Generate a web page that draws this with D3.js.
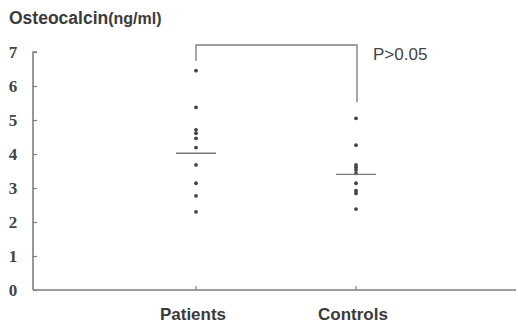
<!DOCTYPE html>
<html>
<head>
<meta charset="utf-8">
<script src="https://cdn.jsdelivr.net/npm/d3@7"></script>
<style>
  body { margin: 0; background: #fff; }
  svg { display: block; }
</style>
</head>
<body>
<svg id="chart"></svg>
<script>
const width = 518;
const height = 324;

const groups = ["Patients", "Controls"];
const patients = [6.45, 5.37, 4.71, 4.61, 4.46, 4.19, 3.68, 3.14, 2.77, 2.30];
const controls = [5.05, 4.26, 3.68, 3.61, 3.53, 3.43, 3.14, 2.92, 2.84, 2.38];
const means = [4.02, 3.40];
const yTicks = [0, 1, 2, 3, 4, 5, 6, 7];
const pLabel = "P>0.05";

const axisColor = "#808080";
const dotColor = "#444";

const svg = d3.select("#chart")
  .attr("width", width)
  .attr("height", height);

const x = d3.scalePoint()
  .domain(groups)
  .range([196, 356]);

const y = d3.scaleLinear()
  .domain([0, 7])
  .range([290, 52]);

const x0 = 33;

// title
const title = svg.append("text")
  .attr("x", 9)
  .attr("y", 24)
  .attr("font-family", "Liberation Sans, Arial, sans-serif")
  .attr("font-weight", "bold")
  .attr("fill", "#3a3a3a");
title.append("tspan").attr("font-size", 17.5).text("Osteocalcin");
title.append("tspan").attr("font-size", 16).text("(ng/ml)");

// y axis
const yAxis = svg.append("g")
  .attr("transform", `translate(${x0},0)`)
  .call(d3.axisRight(y).tickValues(yTicks).tickSize(4).tickFormat(""));
yAxis.select(".domain")
  .attr("d", `M4,${y(7)}H0V${y(0)}`)
  .attr("stroke", axisColor)
  .attr("stroke-width", 1.6);
yAxis.selectAll(".tick line").attr("stroke", axisColor).attr("stroke-width", 1.2);

svg.append("g")
  .selectAll("text")
  .data(yTicks)
  .join("text")
  .attr("x", 13)
  .attr("y", d => y(d))
  .attr("dy", "0.35em")
  .attr("text-anchor", "middle")
  .attr("font-family", "Liberation Serif, Times New Roman, serif")
  .attr("font-weight", "bold")
  .attr("font-size", 17)
  .attr("fill", "#444")
  .text(d => d);

// x axis
svg.append("line")
  .attr("x1", x0).attr("x2", 516)
  .attr("y1", y(0)).attr("y2", y(0))
  .attr("stroke", axisColor)
  .attr("stroke-width", 1.6);

svg.append("g")
  .selectAll("line")
  .data(groups)
  .join("line")
  .attr("x1", d => x(d)).attr("x2", d => x(d))
  .attr("y1", y(0)).attr("y2", y(0) - 4)
  .attr("stroke", axisColor)
  .attr("stroke-width", 1.2);

svg.append("g")
  .selectAll("text")
  .data(groups)
  .join("text")
  .attr("x", d => x(d) - 3)
  .attr("y", 320)
  .attr("text-anchor", "middle")
  .attr("font-family", "Liberation Sans, Arial, sans-serif")
  .attr("font-weight", "bold")
  .attr("font-size", 17)
  .attr("fill", "#3a3a3a")
  .text(d => d);

// dots
const series = [patients, controls];
series.forEach((vals, i) => {
  svg.append("g")
    .selectAll("circle")
    .data(vals)
    .join("circle")
    .attr("cx", x(groups[i]))
    .attr("cy", d => y(d))
    .attr("r", 1.9)
    .attr("fill", dotColor);
});

// means
svg.append("g")
  .selectAll("line")
  .data(means)
  .join("line")
  .attr("x1", (d, i) => x(groups[i]) - 20)
  .attr("x2", (d, i) => x(groups[i]) + 20)
  .attr("y1", d => y(d))
  .attr("y2", d => y(d))
  .attr("stroke", "#777")
  .attr("stroke-width", 1.4);

// significance bracket
const bracketTop = 45;
svg.append("path")
  .attr("d", `M${x(groups[0])},${y(patients[0]) - 10}V${bracketTop}H${x(groups[1]) + 1}V${y(controls[0]) - 16}`)
  .attr("fill", "none")
  .attr("stroke", axisColor)
  .attr("stroke-width", 1.4);

svg.append("text")
  .attr("x", 373)
  .attr("y", 60)
  .attr("font-family", "Liberation Sans, Arial, sans-serif")
  .attr("font-size", 17)
  .attr("fill", "#444")
  .text(pLabel);
</script>
</body>
</html>
